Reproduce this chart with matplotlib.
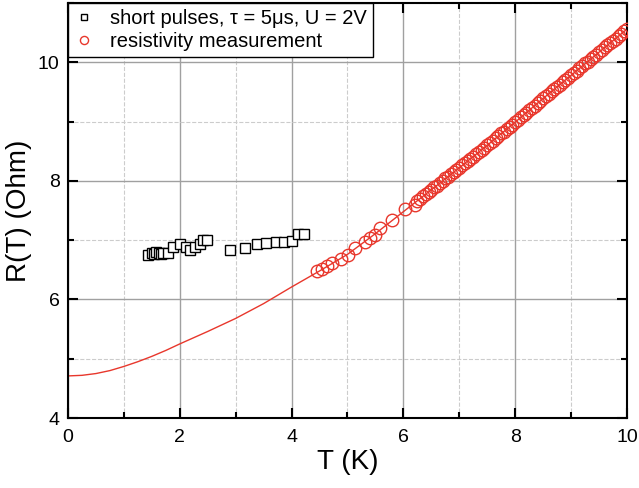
import matplotlib
matplotlib.use('Agg')
from matplotlib import pyplot as plt
from matplotlib.ticker import MultipleLocator

plt.rcParams['font.family'] = ['Liberation Sans', 'DejaVu Sans']

# short pulses (squares)
pulse_T = [1.44, 1.50, 1.53, 1.58, 1.62, 1.66, 1.70, 1.79, 1.87, 2.00, 2.12, 2.18,
           2.27, 2.36, 2.42, 2.49, 2.89, 3.17, 3.38, 3.55, 3.72, 3.86, 4.00, 4.12, 4.22]
pulse_R = [6.75, 6.78, 6.76, 6.80, 6.79, 6.77, 6.78, 6.78, 6.89, 6.94, 6.89, 6.83,
           6.89, 6.94, 7.00, 7.00, 6.84, 6.86, 6.93, 6.95, 6.97, 6.97, 6.99, 7.10, 7.11]

# resistivity measurement (circles)
meas_T = [4.45, 4.54, 4.63, 4.72, 4.88, 5.01, 5.13, 5.31, 5.40, 5.49, 5.59, 5.79, 6.03, 6.21,
          6.25, 6.30, 6.35, 6.40, 6.45, 6.50, 6.55, 6.60, 6.65, 6.70, 6.75, 6.80, 6.85, 6.90,
          6.95, 7.00, 7.05, 7.10, 7.15, 7.20, 7.25, 7.30, 7.35, 7.40, 7.45, 7.50, 7.55, 7.60,
          7.65, 7.70, 7.75, 7.80, 7.85, 7.90, 7.95, 8.00, 8.05, 8.10, 8.15, 8.20, 8.25, 8.30,
          8.35, 8.40, 8.45, 8.50, 8.55, 8.60, 8.65, 8.70, 8.75, 8.80, 8.85, 8.90, 8.95, 9.00,
          9.05, 9.10, 9.15, 9.20, 9.25, 9.30, 9.35, 9.40, 9.45, 9.50, 9.55, 9.60, 9.65, 9.70,
          9.75, 9.80, 9.85, 9.90, 9.95, 10.00]
meas_R = [6.48, 6.52, 6.56, 6.61, 6.68, 6.75, 6.86, 6.97, 7.03, 7.08, 7.20, 7.34, 7.52, 7.59,
          7.66, 7.70, 7.74, 7.77, 7.81, 7.85, 7.89, 7.92, 7.96, 8.00, 8.04, 8.07, 8.11, 8.15,
          8.18, 8.22, 8.26, 8.30, 8.33, 8.37, 8.41, 8.45, 8.49, 8.52, 8.56, 8.60, 8.64, 8.68,
          8.72, 8.76, 8.80, 8.83, 8.87, 8.91, 8.95, 8.99, 9.03, 9.07, 9.11, 9.15, 9.19, 9.23,
          9.27, 9.31, 9.35, 9.39, 9.43, 9.47, 9.51, 9.55, 9.58, 9.62, 9.66, 9.70, 9.74, 9.78,
          9.82, 9.86, 9.90, 9.94, 9.98, 10.01, 10.05, 10.09, 10.13, 10.17, 10.21, 10.25, 10.29, 10.32,
          10.36, 10.40, 10.44, 10.48, 10.52, 10.56]

# fit curve
fit_T = [0.0, 0.25, 0.5, 0.75, 1.0, 1.25, 1.5, 1.75, 2.0, 2.5, 3.0, 3.5, 4.0, 4.5, 5.0,
         5.5, 6.0, 6.5, 7.0, 7.5, 8.0, 8.5, 9.0, 9.5, 10.0]
fit_R = [4.71, 4.72, 4.75, 4.80, 4.87, 4.95, 5.04, 5.14, 5.25, 5.46, 5.68, 5.93, 6.21,
         6.48, 6.76, 7.11, 7.48, 7.85, 8.22, 8.60, 8.99, 9.39, 9.78, 10.17, 10.56]

red = '#e8372c'

fig = plt.figure(figsize=(6.39, 4.88), dpi=100)
ax = fig.add_axes([0.1064, 0.1434, 0.8748, 0.8505])

ax.plot(fit_T, fit_R, '-', color=red, lw=1.0, zorder=2)
ax.plot(pulse_T, pulse_R, 's', mfc='white', mec='black', mew=1.0, ms=7.5,
        label='short pulses, \u03c4 = 5\u03bcs, U = 2V', zorder=3)
ax.plot(meas_T, meas_R, 'o', mfc='none', mec=red, mew=1.0, ms=9,
        label='resistivity measurement', zorder=3)

ax.set_xlim(0, 10)
ax.set_ylim(4, 11)
ax.xaxis.set_major_locator(MultipleLocator(2))
ax.xaxis.set_minor_locator(MultipleLocator(1))
ax.yaxis.set_major_locator(MultipleLocator(2))
ax.yaxis.set_minor_locator(MultipleLocator(1))

ax.grid(which='major', color='#a0a0a0', linestyle='-', lw=1.0)
ax.grid(which='minor', color='#cccccc', linestyle='--', lw=0.8)
ax.set_axisbelow(True)

ax.tick_params(which='both', direction='in', top=True, right=True, labelsize=14, width=1.5)
ax.tick_params(which='major', length=7)
ax.tick_params(which='minor', length=4)
ax.tick_params(axis='x', which='both', pad=8)
ax.tick_params(axis='y', which='both', pad=6)
for s in ax.spines.values():
    s.set_linewidth(1.5)

ax.set_xlabel('T (K)', fontsize=20, labelpad=2)
ax.set_ylabel('R(T) (Ohm)', fontsize=20)

leg = ax.legend(loc='upper left', bbox_to_anchor=(0, 1), borderaxespad=0, fontsize=14.5,
                markerscale=0.65, fancybox=False, framealpha=1, edgecolor='black',
                handlelength=1.0, handletextpad=0.8, borderpad=0.3, labelspacing=0.2)
leg.get_frame().set_linewidth(1.0)

fig.savefig('out.png', dpi=100)
